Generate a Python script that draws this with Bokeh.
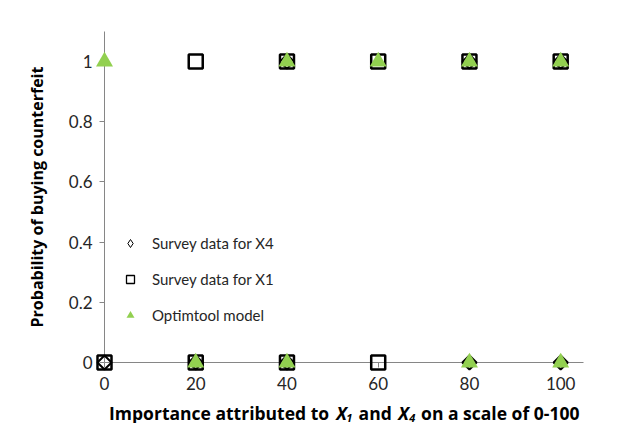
from bokeh.plotting import figure
from bokeh.models import Range1d, Legend, LegendItem
from bokeh.layouts import column
from bokeh.embed import file_html
from bokeh.resources import INLINE
from bokeh.core.properties import value
import math

# data
x4_x = [0, 20, 40, 80, 100, 40, 80, 100]
x4_y = [0, 0, 0, 0, 0, 1, 1, 1]
x1_x = [0, 20, 40, 60, 20, 40, 60, 80, 100]
x1_y = [0, 0, 0, 0, 1, 1, 1, 1, 1]
opt_x = [20, 40, 80, 100, 0, 40, 60, 80, 100]
opt_y = [0, 0, 0, 0, 1, 1, 1, 1, 1]
x_ticks = [0, 20, 40, 60, 80, 100]
y_ticks = [0, 0.2, 0.4, 0.6, 0.8, 1]
legend_labels = ["Survey data for X4", "Survey data for X1", "Optimtool model"]
xtitle_main = ["Importance attributed to", "and", "on a scale of 0-100"]
xtitle_main_x = [1.0, 55.7, 69.4]
xtitle_var = ["X", "X"]
xtitle_var_x = [50.8, 64.4]
xtitle_sub = ["1", "4"]
xtitle_sub_x = [53.0, 66.8]

FONT = "Lato"
TFONT = "Open Sans"
AX = "#868686"
TXT = "#262626"

p = figure(width=629, height=398, output_backend="svg", toolbar_location=None,
           x_range=Range1d(0, 105), y_range=Range1d(0, 1.1),
           min_border_left=104, min_border_right=46, min_border_top=31, min_border_bottom=36)
p.frame_width = 479
p.frame_height = 331
p.outline_line_color = None
p.grid.visible = False
p.background_fill_color = "white"
p.border_fill_color = "white"
# an off-screen range so the legend swatches (thinner style) never show in the plot
p.extra_x_ranges = {"swatch": Range1d(1000, 1001)}

for ax in (p.xaxis[0], p.yaxis[0]):
    ax.axis_line_color = AX
    ax.major_tick_line_color = AX
    ax.minor_tick_line_color = None
    ax.major_tick_out = 5
    ax.major_tick_in = 0
    ax.major_label_text_font = FONT
    ax.major_label_text_font_size = "17px"
    ax.major_label_text_color = TXT

p.xaxis.ticker = x_ticks
p.yaxis.ticker = y_ticks
p.xaxis.major_label_standoff = 9
p.yaxis.major_label_standoff = 7
p.yaxis.major_label_overrides = {0: "0", 1: "1"}
p.yaxis.axis_label = "Probability of buying counterfeit"
p.yaxis.axis_label_text_font = TFONT
p.yaxis.axis_label_text_font_style = "bold"
p.yaxis.axis_label_text_font_size = "16px"
p.yaxis.axis_label_text_color = "black"
p.yaxis.axis_label_standoff = 18

r_sq = p.scatter(x1_x, x1_y, marker="square", size=14, fill_color=None,
                 line_color="black", line_width=2.5, level="annotation")
r_di = p.scatter(x4_x, x4_y, marker="square", angle=math.pi / 4, size=10, fill_color=None,
                 line_color="black", line_width=2, level="annotation")
r_tr = p.scatter(opt_x, opt_y, marker="triangle", size=17, fill_color="#92D050",
                 line_color=None, level="annotation")

# legend swatches: same data, thinner legend styling, mapped off-screen
lg_di = p.scatter(x4_x, x4_y, marker="diamond", size=15, fill_color=None,
                  line_color="black", line_width=1, x_range_name="swatch")
lg_sq = p.scatter(x1_x, x1_y, marker="square", size=11, fill_color=None,
                  line_color="black", line_width=1.3, x_range_name="swatch")
lg_tr = p.scatter(opt_x, opt_y, marker="triangle", size=13, fill_color="#92D050",
                  line_color=None, x_range_name="swatch")

legend = Legend(items=[LegendItem(label=legend_labels[0], renderers=[lg_di]),
                       LegendItem(label=legend_labels[1], renderers=[lg_sq]),
                       LegendItem(label=legend_labels[2], renderers=[lg_tr])],
                location=(16, 37), border_line_color=None, background_fill_alpha=0,
                padding=0, margin=0, glyph_width=20, glyph_height=20, label_height=20,
                spacing=16, label_standoff=12, label_text_font=FONT,
                label_text_font_size="15px", label_text_color=TXT)
p.add_layout(legend, "center")

# x axis title strip (italic X with subscripts), aligned to the same x scale
t = figure(width=629, height=25, output_backend="svg", toolbar_location=None,
           x_range=p.x_range, y_range=Range1d(0, 25),
           x_axis_location=None, y_axis_location=None,
           min_border_left=104, min_border_right=46, min_border_top=0, min_border_bottom=0)
t.frame_width = 479
t.frame_height = 25
t.outline_line_color = None
t.grid.visible = False
t.background_fill_color = "white"
t.border_fill_color = "white"

ty = 11
t.text(x=xtitle_main_x, y=[ty] * len(xtitle_main), text=xtitle_main,
       text_font=value(TFONT), text_font_style="bold", text_font_size="17.5px",
       text_color="black", text_baseline="middle", text_align="left")
t.text(x=xtitle_var_x, y=[ty] * len(xtitle_var), text=xtitle_var,
       text_font=value(TFONT), text_font_style="bold italic", text_font_size="17.5px",
       text_color="black", text_baseline="middle", text_align="left")
t.text(x=xtitle_sub_x, y=[ty - 5] * len(xtitle_sub), text=xtitle_sub,
       text_font=value(TFONT), text_font_style="bold italic", text_font_size="11px",
       text_color="black", text_baseline="middle", text_align="left")

layout = column(p, t, spacing=0)
open("out.html", "w").write(file_html(layout, INLINE))
